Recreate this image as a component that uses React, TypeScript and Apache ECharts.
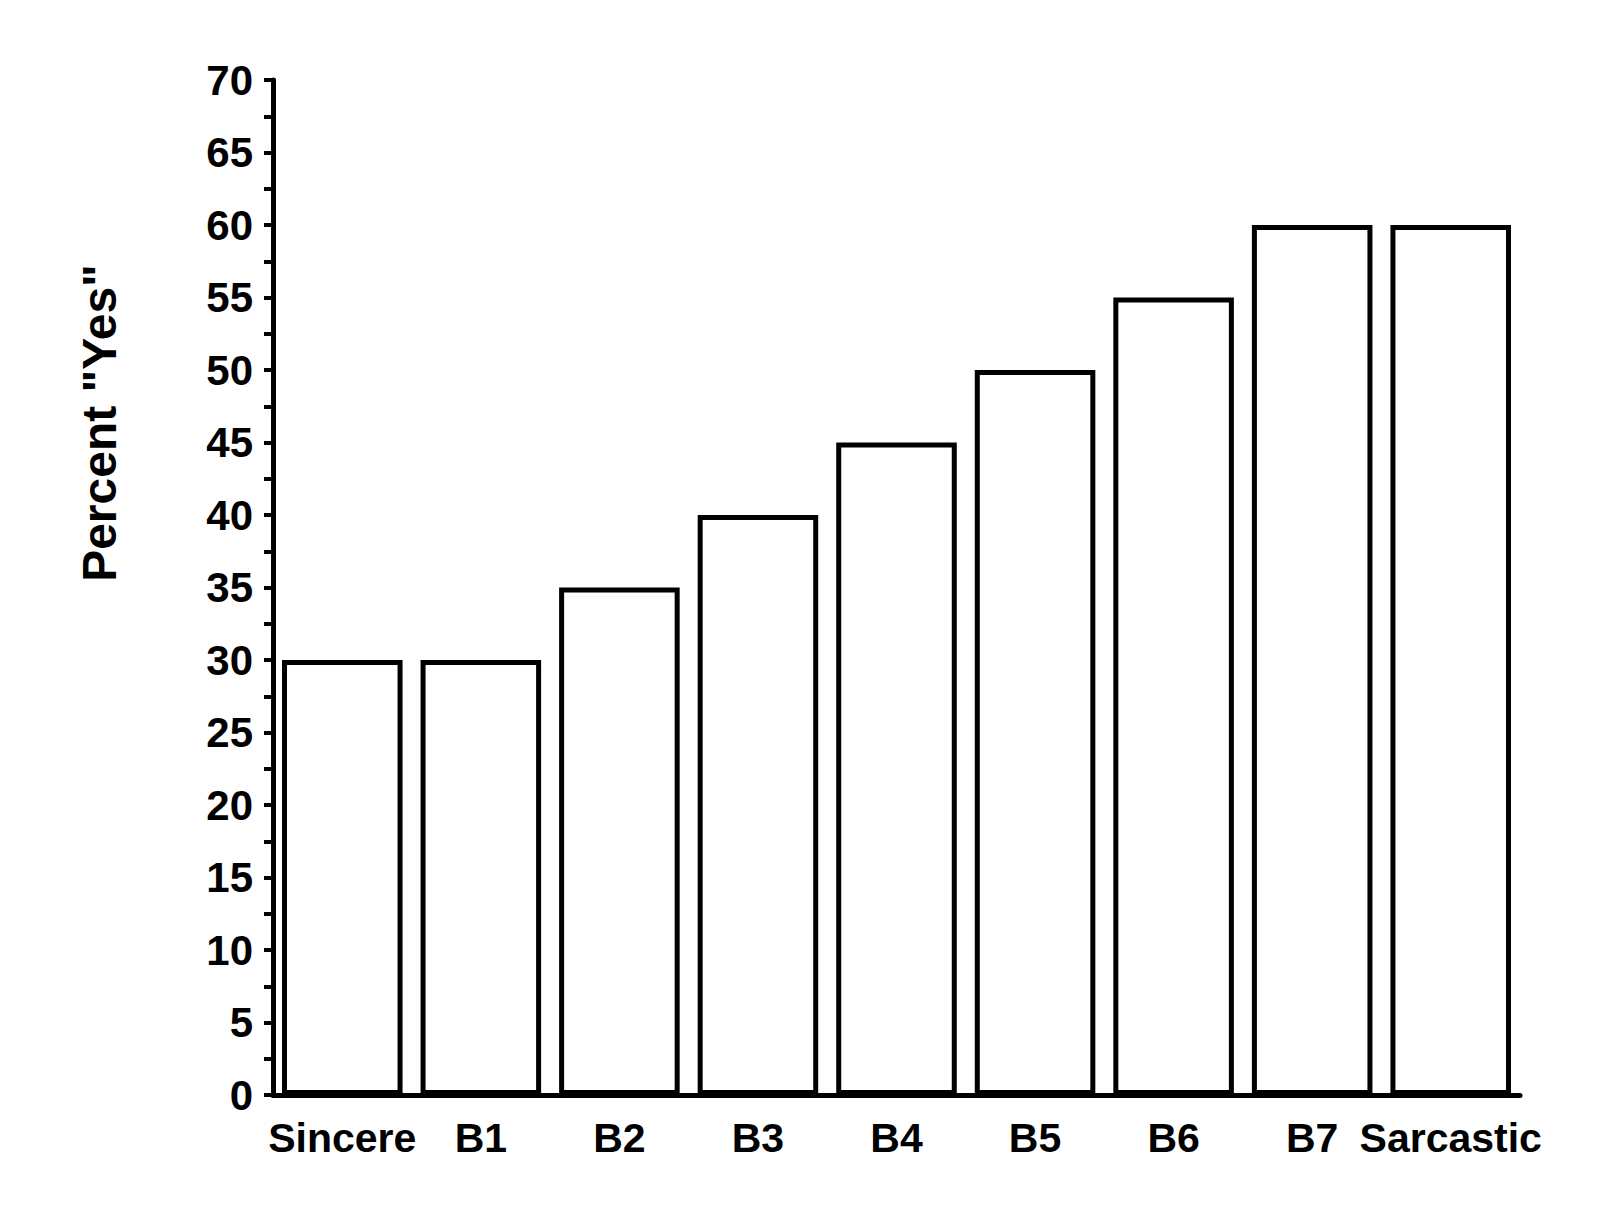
import * as echarts from 'echarts';
import React, { useEffect, useRef } from 'react';

const categories = ['Sincere', 'B1', 'B2', 'B3', 'B4', 'B5', 'B6', 'B7', 'Sarcastic'];
const percentYes = [30, 30, 35, 40, 45, 50, 55, 60, 60];
const yTitle = 'Percent "Yes"';

const FONT = '"Liberation Sans", Arial, sans-serif';

const App: React.FC = () => {
  const chartRef = useRef<HTMLDivElement>(null);

  useEffect(() => {
    let chart: echarts.ECharts | undefined;
    if (chartRef.current) {
      chart = echarts.init(chartRef.current, undefined, { renderer: 'svg' });

      const option: echarts.EChartsOption = {
        animation: false,
        backgroundColor: '#ffffff',
        grid: { left: 273, right: 80, top: 80, bottom: 115 },
        xAxis: [
          {
            type: 'category',
            data: categories,
            axisLine: { lineStyle: { color: '#000', width: 5 } },
            axisTick: { alignWithLabel: true, length: 15, lineStyle: { width: 4, color: '#000' } },
            axisLabel: {
              color: '#000',
              fontSize: 41,
              fontWeight: 'bold',
              fontFamily: FONT,
              margin: 22,
              interval: 0,
            },
          },
          {
            type: 'category',
            data: categories,
            position: 'bottom',
            axisLine: { show: false },
            axisTick: { length: 7, lineStyle: { width: 4, color: '#000' } },
            axisLabel: { show: false },
          },
        ],
        yAxis: {
          type: 'value',
          min: 0,
          max: 70,
          interval: 5,
          axisLine: { show: true, lineStyle: { color: '#000', width: 5 } },
          axisTick: { show: true, length: 9, lineStyle: { width: 4, color: '#000' } },
          minorTick: { show: true, splitNumber: 2, length: 9, lineStyle: { width: 4, color: '#000' } },
          splitLine: { show: false },
          axisLabel: {
            color: '#000',
            fontSize: 42,
            fontWeight: 'bold',
            fontFamily: FONT,
            margin: 20,
          },
        },
        series: [
          {
            type: 'bar',
            data: percentYes,
            barCategoryGap: '13%',
            itemStyle: { color: '#ffffff', borderColor: '#000', borderWidth: 5 },
          },
        ],
        graphic: [
          {
            type: 'text',
            x: 99,
            y: 423,
            rotation: Math.PI / 2,
            style: {
              text: yTitle,
              fill: '#000',
              font: `bold 48px ${FONT}`,
              textAlign: 'center',
              textVerticalAlign: 'middle',
            },
          },
        ],
      };

      chart.setOption(option);
    }
    return () => {
      chart?.dispose();
    };
  }, []);

  return (
    <div
      ref={chartRef}
      style={{ position: 'fixed', left: 0, top: 0, width: '1600px', height: '1210px' }}
    />
  );
};

export default App;
